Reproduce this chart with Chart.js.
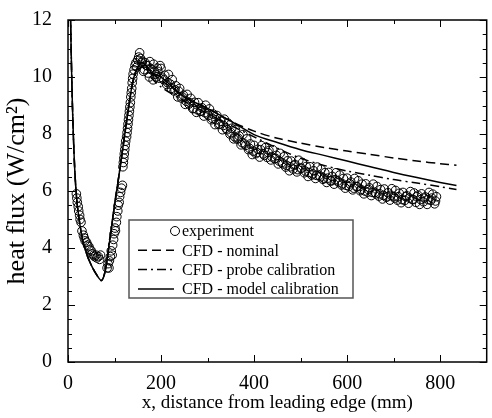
<!DOCTYPE html>
<html>
<head>
<meta charset="utf-8">
<script src="https://cdn.jsdelivr.net/npm/chart.js@4/dist/chart.umd.min.js"></script>
<style>
  html, body { margin: 0; padding: 0; background: #fff; }
  #wrap { width: 492px; height: 418px; }
</style>
</head>
<body>
<div id="wrap"><canvas id="grafico" width="492" height="418"></canvas></div>
<script>
// ejes
const xTicks = [0, 200, 400, 600, 800];
const xMinor = [100, 300, 500, 700];
const yTicks = [0, 2, 4, 6, 8, 10, 12];
const yMinor = [0.5, 1, 1.5, 2.5, 3, 3.5, 4.5, 5, 5.5, 6.5, 7, 7.5, 8.5, 9, 9.5, 10.5, 11, 11.5];

// curvas CFD (misma abscisa)
const xCfd = [3, 5, 8, 11, 15, 20, 30, 40, 50, 60, 72, 80, 90, 100, 110, 120, 130, 140, 150, 160, 170, 180, 200, 250, 300, 350, 400, 450, 500, 550, 600, 650, 700, 750, 800, 835];
const cfdNominal = [14.5, 12.5, 10.0, 8.2, 6.6, 5.5, 4.4, 3.8, 3.4, 3.1, 2.86, 3.2, 4.3, 5.5, 6.6, 7.75, 8.9, 9.9, 10.35, 10.5, 10.35, 10.15, 9.9, 9.3, 8.9, 8.45, 8.1, 7.85, 7.68, 7.53, 7.4, 7.28, 7.16, 7.05, 6.96, 6.9];
const cfdProbe   = [14.5, 12.5, 10.0, 8.2, 6.6, 5.5, 4.4, 3.8, 3.4, 3.1, 2.86, 3.2, 4.3, 5.5, 6.6, 7.75, 8.9, 9.85, 10.25, 10.35, 10.15, 9.95, 9.65, 9.15, 8.72, 8.3, 7.9, 7.5, 7.15, 6.9, 6.7, 6.55, 6.4, 6.28, 6.15, 6.05];
const cfdModel   = [14.5, 12.5, 10.0, 8.2, 6.6, 5.5, 4.4, 3.8, 3.4, 3.1, 2.86, 3.2, 4.3, 5.5, 6.6, 7.75, 8.9, 9.9, 10.35, 10.5, 10.35, 10.15, 10.0, 9.3, 8.9, 8.45, 7.98, 7.7, 7.45, 7.25, 7.05, 6.85, 6.65, 6.47, 6.3, 6.19];

// datos experimentales: caída inicial y subida
const expX1 = [18, 19, 20, 22, 23, 25, 26, 28, 30, 33, 35, 37, 40, 42, 45, 47, 50, 52, 55, 57, 60, 62, 65, 68, 70,
  84, 86, 88, 89, 91, 93, 95, 96, 98, 99, 101, 102, 104, 105, 107, 108, 110, 111, 113, 115, 117,
  118, 119, 120, 121, 122, 123, 124, 126, 127, 128, 129, 130, 131, 132, 133, 134, 135, 136, 137, 138, 139, 140,
  142, 144, 146, 148, 150, 152, 154, 156, 158];
const expY1 = [5.9, 5.75, 5.6, 5.45, 5.3, 5.15, 5.0, 4.9, 4.6, 4.45, 4.35, 4.25, 4.2, 4.1, 4.05, 3.95, 3.9, 3.8, 3.75, 3.7, 3.75, 3.65, 3.7, 3.6, 3.75,
  3.3, 3.45, 3.3, 3.55, 3.7, 3.9, 3.75, 4.1, 4.3, 4.5, 4.7, 4.6, 4.9, 5.1, 5.3, 5.5, 5.6, 5.8, 5.95, 6.1, 6.2,
  6.85, 7.0, 7.15, 7.3, 7.45, 7.6, 7.75, 7.9, 8.05, 8.2, 8.35, 8.5, 8.65, 8.8, 8.95, 9.1, 9.3, 9.45, 9.6, 9.8, 9.95, 10.1,
  10.25, 10.4, 10.5, 10.35, 10.6, 10.7, 10.85, 10.65, 10.5];

// datos experimentales: zona de descenso (lectura cada 4 mm)
const expX2 = [160, 164, 168, 172, 176, 180, 184, 188, 192, 196, 200, 204, 208, 212, 216, 220, 224, 228, 232, 236,
  240, 244, 248, 252, 256, 260, 264, 268, 272, 276, 280, 284, 288, 292, 296, 300, 304, 308, 312, 316,
  320, 324, 328, 332, 336, 340, 344, 348, 352, 356, 360, 364, 368, 372, 376, 380, 384, 388, 392, 396,
  400, 404, 408, 412, 416, 420, 424, 428, 432, 436, 440, 444, 448, 452, 456, 460, 464, 468, 472, 476,
  480, 484, 488, 492, 496, 500, 504, 508, 512, 516, 520, 524, 528, 532, 536, 540, 544, 548, 552, 556,
  560, 564, 568, 572, 576, 580, 584, 588, 592, 596, 600, 604, 608, 612, 616, 620, 624, 628, 632, 636,
  640, 644, 648, 652, 656, 660, 664, 668, 672, 676, 680, 684, 688, 692, 696, 700, 704, 708, 712, 716,
  720, 724, 728, 732, 736, 740, 744, 748, 752, 756, 760, 764, 768, 772, 776, 780, 784, 788, 792];
const expY2 = [10.55, 10.26, 10.41, 10.14, 10.54, 10.25, 10.45, 10.09, 10.31, 9.96, 10.3, 9.96, 10.06, 9.74, 10.09, 9.75, 9.91, 9.51, 9.69, 9.30,
  9.6, 9.26, 9.36, 9.04, 9.39, 9.05, 9.25, 8.89, 9.11, 8.76, 9.1, 8.79, 8.92, 8.63, 9.01, 8.7, 8.88, 8.5, 8.7, 8.33,
  8.65, 8.33, 8.45, 8.15, 8.52, 8.2, 8.38, 8.0, 8.2, 7.83, 8.15, 7.82, 7.93, 7.62, 7.98, 7.65, 7.83, 7.45, 7.65, 7.28,
  7.6, 7.31, 7.46, 7.19, 7.59, 7.3, 7.52, 7.18, 7.42, 7.09, 7.45, 7.13, 7.25, 6.95, 7.32, 7.0, 7.2, 6.84, 7.06, 6.71,
  7.05, 6.77, 6.93, 6.67, 7.08, 6.8, 7.0, 6.64, 6.86, 6.51, 6.85, 6.56, 6.71, 6.44, 6.84, 6.55, 6.76, 6.41, 6.64, 6.30,
  6.65, 6.36, 6.51, 6.24, 6.64, 6.35, 6.56, 6.21, 6.44, 6.10, 6.45, 6.16, 6.31, 6.04, 6.44, 6.15, 6.36, 6.01, 6.24, 5.90,
  6.25, 5.96, 6.11, 5.84, 6.24, 5.95, 6.16, 5.82, 6.05, 5.72, 6.07, 5.78, 5.94, 5.68, 6.08, 5.8, 6.02, 5.68, 5.92, 5.59,
  5.95, 5.67, 5.83, 5.57, 5.98, 5.7, 5.93, 5.6, 5.85, 5.53, 5.9, 5.62, 5.79, 5.53, 5.95, 5.67, 5.89, 5.55, 5.8];

// segunda pasada de lectura, más cerca del centro de la banda
const expX3 = [162, 166, 170, 175, 178, 183, 186, 190, 193, 198, 206, 214, 222, 230, 238, 246, 254, 262, 270, 278, 286, 294,
  302, 310, 318, 326, 334, 342, 350, 358, 366, 374, 382, 390, 398, 406, 414, 422, 430, 438, 446, 454, 462, 470, 478,
  486, 494, 502, 510, 518, 526, 534, 542, 550, 558, 566, 574, 582, 590, 598, 606, 614, 622, 630, 638, 646, 654, 662,
  670, 678, 686, 694, 702, 710, 718, 726, 734, 742, 750, 758, 766, 774, 782, 790];
const expY3 = [10.2, 10.5, 10.4, 10.0, 10.3, 9.9, 10.2, 10.0, 10.2, 10.4, 9.9, 9.8, 9.6, 9.55, 9.5, 9.3, 9.15, 9.1, 8.9, 8.85, 8.8, 8.75,
  8.65, 8.55, 8.5, 8.35, 8.3, 8.15, 8.05, 7.9, 7.85, 7.7, 7.6, 7.5, 7.4, 7.35, 7.45, 7.25, 7.35, 7.2, 7.15, 7.05, 6.95, 6.9, 6.85,
  6.9, 6.75, 6.8, 6.7, 6.65, 6.6, 6.55, 6.5, 6.45, 6.45, 6.35, 6.4, 6.3, 6.25, 6.2, 6.25, 6.1, 6.15, 6.05, 6.0, 6.05, 5.95, 5.9,
  5.9, 5.85, 5.8, 5.85, 5.75, 5.8, 5.7, 5.8, 5.75, 5.7, 5.8, 5.7, 5.75, 5.7, 5.75, 5.65];

const expX = expX1.concat(expX2, expX3);
const expY = expY1.concat(expY2, expY3);

const fuente = "'Liberation Serif', 'Times New Roman', serif";

function pares(xs, ys) {
  return xs.map((x, i) => ({ x: x, y: ys[i] }));
}

// marco con ticks hacia adentro en los cuatro lados
const marco = {
  id: 'marco',
  afterDraw(chart) {
    const ctx = chart.ctx;
    const a = chart.chartArea;
    const sx = chart.scales.x, sy = chart.scales.y;
    ctx.save();
    ctx.strokeStyle = '#000';
    ctx.lineWidth = 1.5;
    ctx.strokeRect(a.left, a.top, a.right - a.left, a.bottom - a.top);
    ctx.lineWidth = 1;
    ctx.beginPath();
    const marcaX = (v, l) => {
      const p = Math.round(sx.getPixelForValue(v)) + 0.5;
      ctx.moveTo(p, a.bottom); ctx.lineTo(p, a.bottom - l);
      ctx.moveTo(p, a.top); ctx.lineTo(p, a.top + l);
    };
    const marcaY = (v, l) => {
      const p = Math.round(sy.getPixelForValue(v)) + 0.5;
      ctx.moveTo(a.left, p); ctx.lineTo(a.left + l, p);
      ctx.moveTo(a.right, p); ctx.lineTo(a.right - l, p);
    };
    xTicks.forEach(v => marcaX(v, 7));
    xMinor.forEach(v => marcaX(v, 4));
    yTicks.forEach(v => marcaY(v, 7));
    yMinor.forEach(v => marcaY(v, 4));
    ctx.stroke();
    ctx.restore();
  }
};

// leyenda dentro del área del gráfico
const leyenda = {
  id: 'leyenda',
  afterDraw(chart) {
    const ctx = chart.ctx;
    const box = { x: 129, y: 220, w: 224, h: 78 };
    ctx.save();
    ctx.fillStyle = '#fff';
    ctx.fillRect(box.x, box.y, box.w, box.h);
    ctx.strokeStyle = '#555';
    ctx.lineWidth = 1.5;
    ctx.strokeRect(box.x, box.y, box.w, box.h);
    ctx.font = '16px ' + fuente;
    ctx.textBaseline = 'middle';
    ctx.fillStyle = '#000';
    chart.data.datasets.forEach((ds, i) => {
      const y = box.y + 11 + i * 19.3;
      ctx.strokeStyle = '#000';
      if (ds.showLine === false) {
        ctx.lineWidth = 1;
        ctx.beginPath();
        ctx.arc(175, y, 4.5, 0, Math.PI * 2);
        ctx.stroke();
      } else {
        ctx.lineWidth = ds.borderWidth;
        ctx.setLineDash(ds.borderDash || []);
        ctx.beginPath();
        ctx.moveTo(138, y);
        ctx.lineTo(174, y);
        ctx.stroke();
        ctx.setLineDash([]);
      }
      ctx.fillText(ds.label, 182, y + 1);
    });
    ctx.restore();
  }
};

new Chart(document.getElementById('grafico'), {
  type: 'scatter',
  data: {
    datasets: [
      {
        label: 'experiment',
        data: pares(expX, expY),
        showLine: false,
        pointRadius: 4.3,
        pointBorderWidth: 1,
        pointBorderColor: '#000',
        pointBackgroundColor: 'rgba(0,0,0,0)'
      },
      {
        label: 'CFD - nominal',
        data: pares(xCfd, cfdNominal),
        showLine: true,
        borderColor: '#000',
        borderWidth: 1.5,
        borderDash: [9, 5],
        pointRadius: 0,
        tension: 0.3
      },
      {
        label: 'CFD - probe calibration',
        data: pares(xCfd, cfdProbe),
        showLine: true,
        borderColor: '#000',
        borderWidth: 1.5,
        borderDash: [9, 4, 2, 4],
        pointRadius: 0,
        tension: 0.3
      },
      {
        label: 'CFD - model calibration',
        data: pares(xCfd, cfdModel),
        showLine: true,
        borderColor: '#000',
        borderWidth: 1.5,
        pointRadius: 0,
        tension: 0.3
      }
    ]
  },
  options: {
    responsive: false,
    animation: false,
    events: [],
    layout: { padding: { left: 0, right: 2, top: 9, bottom: 0 } },
    plugins: {
      legend: { display: false },
      tooltip: { enabled: false }
    },
    scales: {
      x: {
        type: 'linear',
        min: 0, max: 900,
        grid: { display: false },
        border: { display: false },
        afterBuildTicks: s => { s.ticks = xTicks.map(v => ({ value: v })); },
        afterFit: s => { s.height = 56; },
        ticks: { color: '#000', font: { family: fuente, size: 20 }, padding: 2, maxRotation: 0 },
        title: { display: true, text: 'x, distance from leading edge (mm)', color: '#000', font: { family: fuente, size: 19 }, padding: { top: 0 } }
      },
      y: {
        type: 'linear',
        min: 0, max: 12,
        grid: { display: false },
        border: { display: false },
        afterBuildTicks: s => { s.ticks = yTicks.map(v => ({ value: v })); },
        afterFit: s => { s.width = 68; },
        ticks: { color: '#000', font: { family: fuente, size: 20 }, padding: 8 },
        title: { display: true, text: 'heat flux (W/cm²)', color: '#000', font: { family: fuente, size: 26 }, padding: { top: 2, bottom: 0 } }
      }
    }
  },
  plugins: [marco, leyenda]
});
</script>
</body>
</html>
